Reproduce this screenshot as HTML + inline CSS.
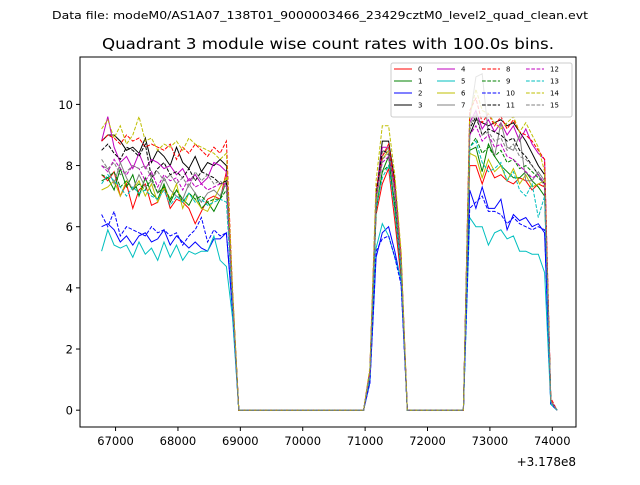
<!DOCTYPE html>
<html><head><meta charset="utf-8"><style>
body{margin:0;background:#fff;}
svg{font-family:"DejaVu Sans","Liberation Sans",sans-serif;}
</style></head><body>
<svg id="chart" width="640" height="480" xmlns="http://www.w3.org/2000/svg">
<text x="320" y="19" font-size="11" text-anchor="middle" textLength="536" lengthAdjust="spacingAndGlyphs">Data file: modeM0/AS1A07_138T01_9000003466_23429cztM0_level2_quad_clean.evt</text>
<text x="328" y="49" font-size="15" text-anchor="middle" textLength="452" lengthAdjust="spacingAndGlyphs">Quadrant 3 module wise count rates with 100.0s bins.</text>
<g id="plot"></g>
<rect x="80" y="57" width="496" height="370" fill="none" stroke="#000" stroke-width="1"/>
<g id="ticks"></g>
<text x="576" y="466" font-size="12" text-anchor="end">+3.178e8</text>
<g id="legend"></g>
</svg>
<script>
const xTicks=[67000,68000,69000,70000,71000,72000,73000,74000];
const yTicks=[0,2,4,6,8,10];
const seriesNames=["0","1","2","3","4","5","6","7","8","9","10","11","12","13","14","15"];
const startTime=66776;
const seg1=[
[7.7,7.5,7.8,7.0,7.4,6.6,7.2,7.4,6.7,6.8,7.3,6.6,6.9,6.8,6.6,6.1,6.5,6.9,7.0,6.9,7.8],
[7.5,7.6,7.2,7.9,7.3,7.7,7.0,7.6,7.1,6.9,7.4,6.8,7.2,6.9,6.7,7.1,6.6,6.8,6.5,6.9,7.5],
[6.0,6.1,5.9,5.5,5.7,5.4,5.7,5.8,5.5,5.6,5.9,5.4,5.7,5.5,5.3,5.5,5.3,5.2,5.6,5.6,5.8],
[8.8,9.0,9.0,8.8,8.5,8.6,8.4,8.9,8.1,8.5,8.3,8.0,8.6,8.1,7.9,8.3,7.8,8.1,8.0,8.2,8.0],
[8.8,9.6,8.6,8.1,8.3,7.9,8.4,7.9,8.2,8.1,7.9,8.0,7.7,7.9,7.5,7.7,7.4,7.6,8.1,8.0,7.8],
[5.2,5.9,5.4,5.3,5.4,5.0,5.5,5.1,5.3,4.9,5.5,5.0,5.4,4.9,5.2,5.1,5.2,5.2,5.7,4.9,4.7],
[7.2,7.3,7.5,7.0,7.5,7.2,7.5,7.0,7.4,6.8,7.3,6.9,7.4,6.6,7.1,6.9,6.6,6.5,6.9,7.3,7.6],
[8.0,7.9,7.4,8.1,7.6,7.2,7.7,7.3,7.5,7.1,7.6,7.2,7.0,6.9,7.4,7.1,6.8,7.1,7.2,7.0,7.5],
[8.8,9.0,8.9,8.7,9.0,8.8,8.9,8.6,8.7,8.6,8.5,8.7,8.2,8.6,8.4,8.7,8.5,8.3,8.6,8.4,8.8],
[7.7,7.6,7.8,7.3,7.5,7.2,7.4,7.2,7.6,7.1,7.3,6.9,7.2,6.8,7.1,6.9,7.0,6.8,6.9,6.9,7.2],
[6.4,6.0,6.5,5.7,6.0,5.9,5.8,5.7,6.0,5.8,5.9,5.7,5.8,5.4,5.7,5.9,6.3,5.5,5.9,5.7,5.8],
[8.5,8.7,8.4,8.2,8.6,8.5,8.3,8.7,7.6,7.9,8.1,7.7,7.8,7.6,7.9,7.5,7.8,7.7,7.6,7.4,7.5],
[8.0,7.8,8.2,7.9,7.7,8.0,7.9,7.5,7.8,7.3,7.7,7.5,7.6,7.2,7.6,7.3,7.4,7.2,7.3,7.4,7.4],
[7.4,7.7,7.5,7.3,7.0,7.3,7.1,7.2,7.0,6.9,7.2,6.7,7.0,6.8,7.1,6.8,6.9,6.7,6.8,6.9,6.8],
[9.2,9.5,8.9,9.3,8.7,9.0,9.6,8.8,8.9,8.5,8.7,8.6,8.8,8.5,8.9,8.7,8.6,8.5,8.4,8.2,8.4],
[8.2,7.9,8.1,7.7,7.8,8.0,7.9,8.0,7.6,7.8,7.5,7.7,7.4,7.6,7.3,7.8,7.5,7.7,7.4,7.5,7.3]];
const dropVals=[3.6,3.5,3.2,3.8,3.7,3.0,3.8,3.6,3.9,3.5,3.3,3.7,3.6,3.4,3.9,3.6];
const peakVals=[
[1.2,6.4,7.4,7.9,6.2,4.3],[1.1,6.6,7.8,8.3,6.6,4.5],[0.9,5.0,5.8,6.0,5.2,4.2],[1.3,7.0,8.8,8.8,7.5,5.0],
[1.3,7.1,8.6,8.6,7.3,4.8],[1.0,5.3,6.1,5.7,5.0,4.3],[1.2,6.8,8.2,8.5,7.1,4.7],[1.2,6.9,8.3,8.6,7.0,4.6],
[1.3,7.2,8.3,8.7,7.4,5.1],[1.1,6.5,7.8,8.0,6.8,4.6],[0.9,5.2,5.6,5.7,5.0,4.1],[1.2,7.0,8.5,8.4,7.2,4.8],
[1.2,6.9,8.1,8.3,7.2,4.9],[1.1,6.6,7.6,8.0,6.5,4.6],[1.4,7.5,9.3,9.3,7.7,5.2],[1.2,6.9,8.2,8.4,7.1,4.8]];
const seg3=[
[8.0,8.0,7.4,8.0,7.6,7.7,7.5,7.4,7.6,7.5,7.2,7.4,7.3],
[8.5,8.6,7.8,8.7,8.3,8.0,7.8,7.6,7.6,7.8,7.5,7.3,7.0],
[7.2,6.6,7.3,6.6,6.6,6.9,5.9,6.4,6.2,6.3,6.0,6.1,5.8],
[9.0,9.5,9.4,9.3,9.4,9.5,9.3,9.4,9.1,8.8,8.4,8.0,7.7],
[9.4,9.8,9.2,9.5,9.1,9.4,9.0,9.3,8.8,9.2,8.7,8.4,8.2],
[6.3,6.0,6.0,5.4,5.8,5.9,5.6,5.7,5.2,5.2,5.1,5.1,4.5],
[8.4,8.3,7.6,8.2,7.8,8.0,7.5,7.9,7.4,7.7,7.3,7.4,7.5],
[9.5,10.9,11.0,9.0,8.3,9.4,8.6,8.5,9.0,7.5,7.5,7.8,7.5],
[9.8,10.2,9.4,9.7,9.3,9.6,9.2,9.5,9.1,9.0,8.8,8.5,8.2],
[8.6,8.9,8.4,8.6,8.3,8.5,8.1,8.2,7.9,8.0,7.8,7.6,7.4],
[6.6,6.8,7.0,6.5,6.5,6.4,6.1,6.3,6.1,6.0,5.9,6.0,5.9],
[9.2,9.6,9.0,9.2,9.1,9.0,8.8,8.9,8.5,8.3,8.0,7.7,7.4],
[9.0,9.3,8.8,9.0,8.6,8.7,8.3,8.2,8.0,7.8,7.6,7.7,7.4],
[8.6,8.8,8.1,7.8,7.9,8.1,7.5,7.8,7.2,7.0,7.4,6.3,7.0],
[9.6,10.5,9.8,9.7,9.4,9.2,9.4,9.6,9.1,9.4,9.0,8.6,7.8],
[9.3,9.7,9.0,9.1,8.8,8.9,8.5,8.7,8.3,8.2,8.0,7.7,7.3]];
const tailVals=[0.3,0.3,0.2,0.3,0.3,0.2,0.3,0.3,0.4,0.3,0.2,0.3,0.3,0.2,0.3,0.3];

const colors=["#ff0000","#008000","#0000ff","#000000","#bf00bf","#00bfbf","#bfbf00","#808080"];
const NS="http://www.w3.org/2000/svg";
const X0=80,X1=576,Y0=57,Y1=427;
const xMin=66430,xMax=74380,yMin=-0.55,yMax=11.55;
function xs(v){return X0+(v-xMin)/(xMax-xMin)*(X1-X0);}
function ys(v){return Y1-(v-yMin)/(yMax-yMin)*(Y1-Y0);}
function buildSeries(i){
  const v=[];
  seg1[i].forEach(a=>v.push(a));
  v.push(dropVals[i]);
  for(let k=0;k<21;k++)v.push(0);
  peakVals[i].forEach(a=>v.push(a));
  for(let k=0;k<10;k++)v.push(0);
  seg3[i].forEach(a=>v.push(a));
  v.push(tailVals[i]);
  v.push(0);
  return v;
}
const plot=document.getElementById('plot');
for(let i=0;i<16;i++){
  const vals=buildSeries(i);
  const pts=vals.map((v,k)=>xs(startTime+k*100).toFixed(1)+","+ys(v).toFixed(1)).join(" ");
  const pl=document.createElementNS(NS,'polyline');
  
  
  pl.setAttribute('points',pts);
  pl.setAttribute('fill','none');
  pl.setAttribute('stroke',colors[i%8]);
  pl.setAttribute('stroke-width','1');
  if(i>=8)pl.setAttribute('stroke-dasharray','3.7,1.6');
  plot.appendChild(pl);
}
const tg=document.getElementById('ticks');
xTicks.forEach(t=>{
  const x=xs(t);
  const l=document.createElementNS(NS,'line');
  
  
  l.setAttribute('x1',x);l.setAttribute('x2',x);l.setAttribute('y1',Y1);l.setAttribute('y2',Y1+4);
  l.setAttribute('stroke','#000');tg.appendChild(l);
  const tx=document.createElementNS(NS,'text');
  
  
  tx.setAttribute('x',x);tx.setAttribute('y',Y1+18);tx.setAttribute('font-size','11.5');tx.setAttribute('text-anchor','middle');
  tx.textContent=t;tg.appendChild(tx);
});
yTicks.forEach(t=>{
  const y=ys(t);
  const l=document.createElementNS(NS,'line');
  
  
  l.setAttribute('x1',X0-4);l.setAttribute('x2',X0);l.setAttribute('y1',y);l.setAttribute('y2',y);
  l.setAttribute('stroke','#000');tg.appendChild(l);
  const tx=document.createElementNS(NS,'text');
  
  
  tx.setAttribute('x',X0-7);tx.setAttribute('y',y+4.5);tx.setAttribute('font-size','11.5');tx.setAttribute('text-anchor','end');
  tx.textContent=t;tg.appendChild(tx);
});
const lg=document.getElementById('legend');
const box=document.createElementNS(NS,'rect');


box.setAttribute('x',391);box.setAttribute('y',63);box.setAttribute('width',181);box.setAttribute('height',54);box.setAttribute('rx',2);
box.setAttribute('fill','#fff');box.setAttribute('fill-opacity','0.8');box.setAttribute('stroke','#ccc');
lg.appendChild(box);
const colX=[394,437,482,526];
const rowY=[69,81,93,105];
for(let i=0;i<16;i++){
  const c=Math.floor(i/4),r=i%4;
  const l=document.createElementNS(NS,'line');
  
  
  l.setAttribute('x1',colX[c]);l.setAttribute('x2',colX[c]+18);l.setAttribute('y1',rowY[r]);l.setAttribute('y2',rowY[r]);
  l.setAttribute('stroke',colors[i%8]);
  if(i>=8)l.setAttribute('stroke-dasharray','3.7,1.6');
  lg.appendChild(l);
  const tx=document.createElementNS(NS,'text');
  
  
  tx.setAttribute('x',colX[c]+24);tx.setAttribute('y',rowY[r]+2.5);tx.setAttribute('font-size','7');
  tx.textContent=seriesNames[i];lg.appendChild(tx);
}
</script>
</body></html>
